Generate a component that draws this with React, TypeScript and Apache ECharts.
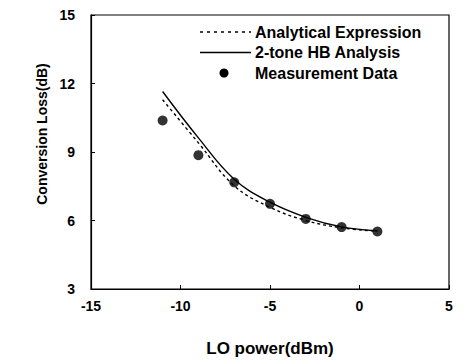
import React, { useEffect, useRef } from "react";
import * as echarts from "echarts";

const loPower = [-11, -9, -7, -5, -3, -1, 1];
const hbAnalysis = [11.65, 9.62, 7.81, 6.8, 6.14, 5.72, 5.55];
const analytical = [11.29, 9.4, 7.52, 6.58, 6.0, 5.68, 5.53];
const measured = [10.38, 8.86, 7.67, 6.73, 6.07, 5.71, 5.52];
const xTicks = [-15, -10, -5, 0, 5];
const yTicks = [3, 6, 9, 12, 15];
const legendNames = ["Analytical Expression", "2-tone HB Analysis", "Measurement Data"];

const FONT = "Liberation Sans, Arial, sans-serif";

export default function App() {
  const ref = useRef<HTMLDivElement>(null);
  useEffect(() => {
    if (!ref.current) return;
    const chart = echarts.init(ref.current, null, { renderer: "svg" });
    const pair = (ys: number[]) => loPower.map((x, i) => [x, ys[i]]);
    const legTop = 24;
    const legStep = 20.5;
    const textStyle = { fontFamily: FONT, fontSize: 16, fontWeight: "bold", fill: "#000" };
    const graphic: any[] = [
      {
        type: "line",
        shape: { x1: 192, y1: legTop, x2: 243, y2: legTop },
        style: { stroke: "#000", lineWidth: 1.3, lineDash: [3, 4] },
      },
      {
        type: "line",
        shape: { x1: 192, y1: legTop + legStep, x2: 243, y2: legTop + legStep },
        style: { stroke: "#000", lineWidth: 1.3 },
      },
      {
        type: "circle",
        shape: { cx: 216, cy: legTop + 2 * legStep, r: 4.5 },
        style: { fill: "#000" },
      },
    ];
    legendNames.forEach((n, i) => {
      graphic.push({
        type: "text",
        x: 247,
        y: legTop + i * legStep,
        style: { ...textStyle, text: n, verticalAlign: "middle", textAlign: "left" },
      });
    });
    chart.setOption({
      animation: false,
      backgroundColor: "#fff",
      textStyle: { fontFamily: FONT, color: "#000" },
      grid: {
        left: 83,
        right: 15,
        top: 5,
        bottom: 74,
        show: true,
        borderColor: "#000",
        borderWidth: 1.2,
      },
      graphic,
      xAxis: {
        type: "value",
        min: xTicks[0],
        max: xTicks[xTicks.length - 1],
        interval: 5,
        name: "LO power(dBm)",
        nameLocation: "middle",
        nameGap: 51,
        nameTextStyle: { fontFamily: FONT, fontSize: 17, fontWeight: "bold", color: "#000" },
        axisLine: { onZero: false, lineStyle: { color: "#000", width: 1.2 } },
        axisTick: { inside: true, length: 4, lineStyle: { color: "#000" } },
        axisLabel: { fontFamily: FONT, fontSize: 14, fontWeight: "bold", color: "#000", margin: 10 },
        splitLine: { show: false },
      },
      yAxis: {
        type: "value",
        min: yTicks[0],
        max: yTicks[yTicks.length - 1],
        interval: 3,
        name: "Conversion Loss(dB)",
        nameLocation: "middle",
        nameGap: 36,
        nameTextStyle: {
          fontFamily: FONT,
          fontSize: 14,
          fontWeight: "bold",
          color: "#000",
          padding: [0, 0, 0, 36],
        },
        axisLine: { onZero: false, lineStyle: { color: "#000", width: 1.2 } },
        axisTick: { inside: true, length: 4, lineStyle: { color: "#000" } },
        axisLabel: { fontFamily: FONT, fontSize: 14, fontWeight: "bold", color: "#000", margin: 16 },
        splitLine: { show: false },
      },
      series: [
        {
          name: legendNames[0],
          type: "line",
          smooth: 0.4,
          symbol: "none",
          data: pair(analytical),
          lineStyle: { color: "#000", width: 1.4, type: [3, 3] },
        },
        {
          name: legendNames[1],
          type: "line",
          smooth: 0.4,
          symbol: "none",
          data: pair(hbAnalysis),
          lineStyle: { color: "#000", width: 1.4 },
        },
        {
          name: legendNames[2],
          type: "scatter",
          symbol: "circle",
          symbolSize: 10,
          data: pair(measured),
          itemStyle: { color: "#000" },
        },
      ],
    });
    return () => chart.dispose();
  }, []);
  return <div ref={ref} style={{ width: 456, height: 355 }} />;
}
